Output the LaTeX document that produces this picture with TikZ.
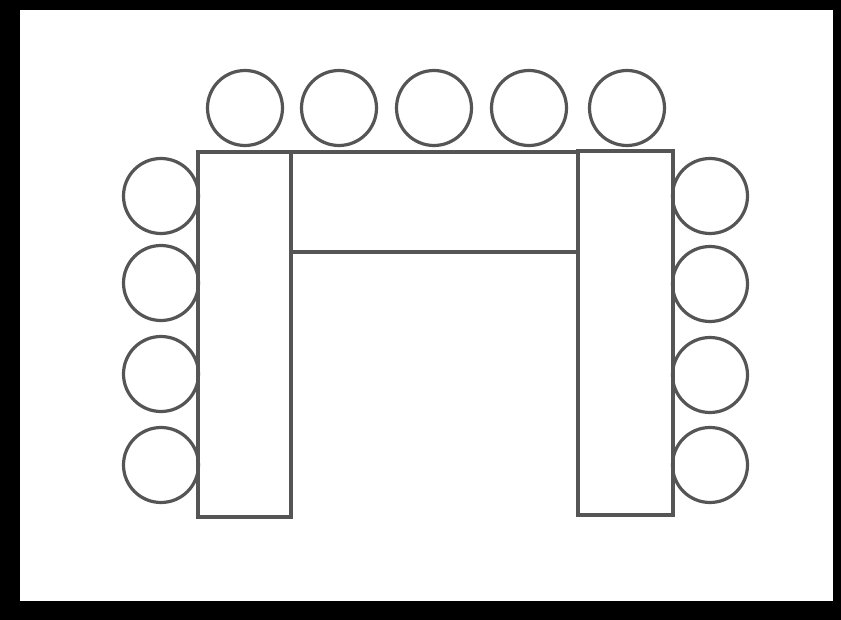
\documentclass[tikz,border=0pt]{standalone}
\usepackage{tikz}
\usetikzlibrary{positioning}
\definecolor{inkgray}{HTML}{555555}
\tikzset{
  seat/.style={
    circle, draw=inkgray, line width=3.2pt,
    minimum size=75pt, inner sep=0pt
  },
  desk/.style={
    rectangle, draw=inkgray, line width=3.8pt,
    inner sep=0pt
  },
}

\begin{document}
\begin{tikzpicture}[x=1pt, y=-1pt]
  % frame
  \fill[black] (0,0) rectangle (841,620);
  \fill[white] (20,10) rectangle (833,601);
  \useasboundingbox (0,0) rectangle (841,620);
  % seats
  \foreach \x [count=\i] in {245,339,434,529,627}
    \node (top\i) [seat] at (\x,108) {};
  \foreach \y [count=\i] in {196,283,374,465}
    \node (left\i) [seat] at (161,\y) {};
  \foreach \y [count=\i] in {196,284,375,465}
    \node (right\i) [seat] at (710,\y) {};
  % tables
  \node (deskL) [desk, minimum width=93pt, minimum height=365pt] at (244.5,334.5) {};
  \node (deskR) [desk, minimum width=95pt, minimum height=364pt] at (625.5,333) {};
  \node (deskT) [desk, minimum width=287pt, minimum height=100pt] at (434.5,202) {};
\end{tikzpicture}
\end{document}
